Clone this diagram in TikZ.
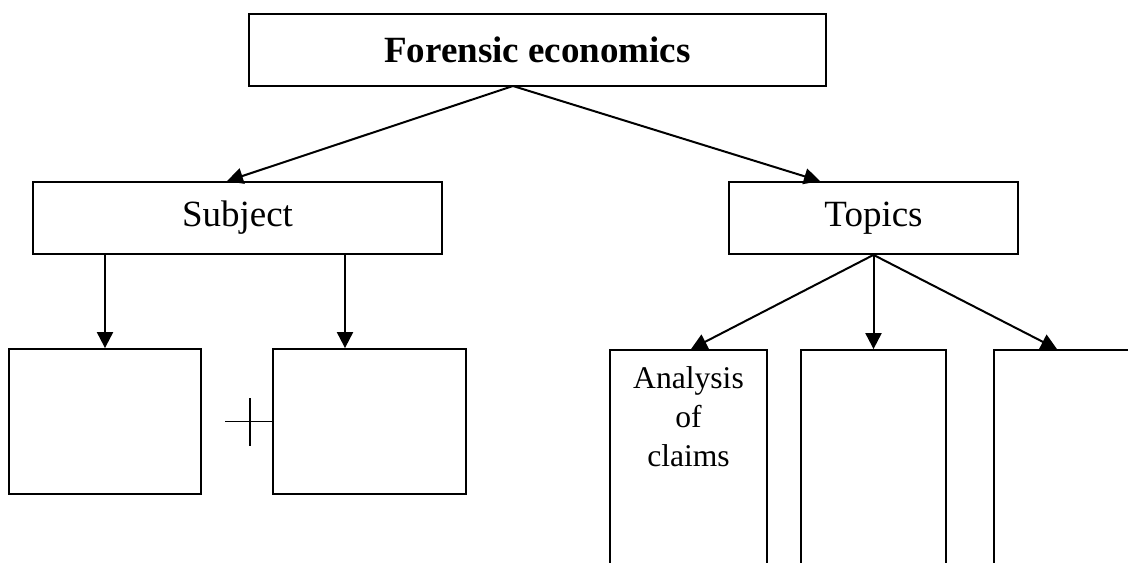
\documentclass[tikz,border=0pt]{standalone}
\usepackage{fontspec}
\setmainfont{Liberation Serif}
\usetikzlibrary{positioning,arrows.meta,calc}

\begin{document}
\begin{tikzpicture}[
  x=0.5pt, y=-0.5pt,
  box/.style={draw, line width=0.9pt, inner sep=0pt, minimum height=36pt},
  arr/.style={-{Triangle[length=8pt,width=8pt]}, line width=1pt},
]
  \useasboundingbox (0,0) rectangle (1128,562);

  % --- Forensic economics ---
  \node[box, minimum width=288.5pt, font=\fontsize{18.5}{22}\selectfont\bfseries] (forensic) at (537.5,50) {Forensic economics};
  \coordinate (split) at (513,86);

  % --- Subject ---
  \node[box, minimum width=204.5pt, font=\fontsize{18.5}{22}\selectfont] (subject) at (237.5,218) {Subject};
  \node[box, minimum width=96pt, minimum height=72.5pt] (subjleft) at (105,421.5) {};
  \node[box, minimum width=96.5pt, minimum height=72.5pt] (subjright) at (369.5,421.5) {};

  % --- Topics ---
  \node[box, minimum width=144.5pt, font=\fontsize{18.5}{22}\selectfont] (topics) at (873.5,218) {Topics};
  \node[box, minimum width=78.5pt, minimum height=135pt] (claims) at (688.5,485) {};
  \node[box, minimum width=72.5pt, minimum height=135pt] (topicmid) at (873.5,485) {};
  \node[box, minimum width=73pt, minimum height=135pt] (topicright) at (1067,485) {};
  \node[font=\fontsize{15.8}{19.5}\selectfont, align=center, inner sep=0pt, anchor=north] (claimstxt) at ($(claims.north)+(0,17)$) {Analysis\\of\\claims};

  % --- arrows ---
  \draw[arr] (split) -- ($(subject.north)+(-10.5,0)$);
  \draw[arr] (split) -- ($(topics.north)+(-53.5,0)$);
  \draw[arr] (subject.south -| subjleft.north) -- (subjleft.north);
  \draw[arr] ($(subject.south)+(107.5,0)$) -- ($(subjright.north)+(-24.5,0)$);
  \draw[arr] (topics.south) -- ($(claims.north)+(2.5,0)$);
  \draw[arr] (topics.south) -- (topicmid.north);
  \draw[arr] (topics.south) -- ($(topicright.north)+(-10,0)$);

  % plus sign
  \draw[line width=0.9pt] (subjright.west) -- ++(-47,0);
  \draw[line width=0.9pt] (250,398) -- (250,446);
\end{tikzpicture}
\end{document}
